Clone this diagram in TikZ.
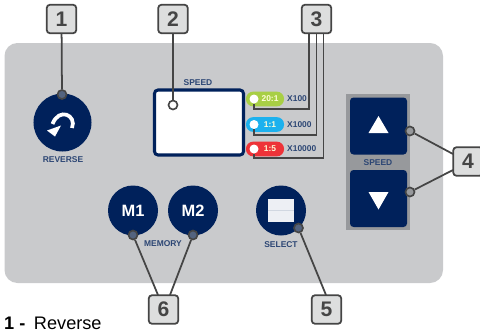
\documentclass[tikz,border=0pt]{standalone}
\usepackage{fontspec}
\setmainfont{Liberation Sans}
\usepackage{xcolor}
\usetikzlibrary{
    shapes.geometric,
    positioning
}
\definecolor{navy}{HTML}{00215B}
\definecolor{panelgray}{HTML}{C9CACC}
\definecolor{wellgray}{HTML}{97999C}
\definecolor{calloutgray}{HTML}{DDDEDE}
\definecolor{leadergray}{HTML}{454545}
\definecolor{captionblue}{HTML}{2C4674}
\definecolor{lampgreen}{HTML}{A8CF45}
\definecolor{lampblue}{HTML}{1CB1EE}
\definecolor{lampred}{HTML}{EE3338}

\begin{document}
\begin{tikzpicture}[
      x=0.03cm,
      y=-0.03cm,
      callout/.style={draw=leadergray, line width=1.5pt, rounded corners=2.5pt, fill=calloutgray, minimum width=0.88cm, minimum height=0.85cm, inner sep=0pt, font=\fontsize{18}{19}\selectfont\bfseries, text=leadergray},
      caption/.style={font=\fontsize{7.2}{8}\selectfont\bfseries, text=captionblue, inner sep=0pt},
      roundbtn/.style={circle, fill=navy, minimum size=1.5cm, inner sep=0pt, font=\fontsize{14}{15}\selectfont\bfseries, text=white},
      arrowbtn/.style={fill=navy, rounded corners=3pt, minimum width=1.71cm, minimum height=1.71cm},
      pill/.style={rounded corners=6pt, minimum width=1.14cm, minimum height=0.44cm, inner sep=0pt, font=\fontsize{7.2}{8}\selectfont\bfseries, text=white!85!yellow},
      ring/.style={circle, draw=leadergray, line width=1.4pt, fill=#1, minimum size=0.27cm, inner sep=0pt},
      ring/.default=wellgray,
      lamp/.style={circle, fill=white, minimum size=0.27cm, inner sep=0pt},
      leader/.style={draw=leadergray, line width=1.5pt}
    ]
    \path[use as bounding box, clip] (0,0) rectangle (480,329);

    % panel
    \fill[panelgray, rounded corners=11pt] (4.5,43) rectangle (443,283);
    \node[fill=wellgray, minimum width=1.92cm, minimum height=4.08cm] (well) at (378,162) {};

    % display and ratio lamps
    \node[draw=navy, line width=2.6pt, fill=white, rounded corners=3pt, minimum width=2.67cm, minimum height=1.95cm] (display) at (199,122.5) {};
    \node[caption] (speedtop) at (198,83) {SPEED};
    \node[pill, fill=lampgreen] (ratioa) at (265,99) {\hspace{0.3cm}20:1};
    \node[pill, fill=lampblue] (ratiob) at (265,124.5) {\hspace{0.3cm}1:1};
    \node[pill, fill=lampred] (ratioc) at (265,149) {\hspace{0.3cm}1:5};
    \node[lamp] (lampa) at (254,99) {};
    \node[lamp] (lampb) at (254,124.5) {};
    \node[lamp] (lampc) at (254,149) {};
    \node[caption, anchor=west] (xa) at (287,98.5) {X100};
    \node[caption, anchor=west] (xb) at (287,125) {X1000};
    \node[caption, anchor=west] (xc) at (287,149) {X10000};

    % buttons
    \node[roundbtn, minimum size=1.74cm] (reverse) at (62.5,122.5) {};
    \node[caption] (reversetxt) at (63,159.5) {REVERSE};
    \draw[white, line width=3.2pt] (72,128) .. controls (77,115) and (59,107) .. (52.5,124);
    \fill[white] (47,130.5) -- (61,125.5) -- (55,136.5) -- cycle;

    \node[arrowbtn] (up) at (378.5,126) {};
    \node[arrowbtn] (down) at (378.5,198.5) {};
    \node[caption] (speedlow) at (378,162.5) {SPEED};
    \fill[white] (378.5,116) -- (388.5,133) -- (368.5,133) -- cycle;
    \fill[white] (378.5,209.5) -- (388.5,192) -- (368.5,192) -- cycle;

    \node[roundbtn] (mone) at (133,210.5) {M1};
    \node[roundbtn] (mtwo) at (193,210.5) {M2};
    \node[caption] (memory) at (163,244) {MEMORY};

    \node[roundbtn] (select) at (281,210.5) {};
    \node[fill=white!93!navy, minimum width=0.78cm, minimum height=0.7cm] (selectkey) at (281,210.5) {};
    \draw[navy!18, line width=0.4pt] (selectkey.west) -- (selectkey.east);
    \node[caption] (selecttxt) at (281,245) {SELECT};

    % callouts
    \node[callout] (one) at (61.5,19) {1};
    \node[callout] (two) at (173,19) {2};
    \node[callout] (three) at (316.5,19) {3};
    \node[callout] (four) at (468,161.5) {4};
    \node[callout] (five) at (326.5,309.5) {5};
    \node[callout] (six) at (163.5,309.5) {6};

    \coordinate (threea) at (309,33.5);
    \coordinate (threeb) at (316.5,33.5);
    \coordinate (threec) at (323.5,33.5);
    \coordinate (fourup) at (453,154);
    \coordinate (fourdown) at (453,170);
    \coordinate (fivein) at (326,295);
    \coordinate (sixa) at (158,295);
    \coordinate (sixb) at (170,295);

    \node[ring=navy!45!wellgray] (dotone) at (62,94.5) {};
    \node[ring=white] (dottwo) at (173,105) {};
    \node[ring] (dotup) at (410,131) {};
    \node[ring] (dotdown) at (410,192) {};
    \node[ring=navy!45!wellgray] (dotfive) at (298.5,228) {};
    \node[ring=navy!45!wellgray] (dotsixa) at (133,235) {};
    \node[ring=navy!45!wellgray] (dotsixb) at (193,235) {};

    \draw[leader] (one) -- (dotone);
    \draw[leader] (two) -- (dottwo);
    \draw[leader] (threea) |- (254,109) -- (lampa);
    \draw[leader] (threeb) |- (254,135) -- (lampb);
    \draw[leader] (threec) |- (254,158) -- (lampc);
    \draw[leader] (dotup) -- (fourup);
    \draw[leader] (dotdown) -- (fourdown);
    \draw[leader] (dotfive) -- (fivein);
    \draw[leader] (dotsixa) -- (sixa);
    \draw[leader] (dotsixb) -- (sixb);

    \node[anchor=base west, inner sep=0pt, font=\fontsize{15.5}{16}\selectfont] (legend) at (4,329) {\textbf{1 -}\hspace{3pt} Reverse};
  \end{tikzpicture}
\end{document}
